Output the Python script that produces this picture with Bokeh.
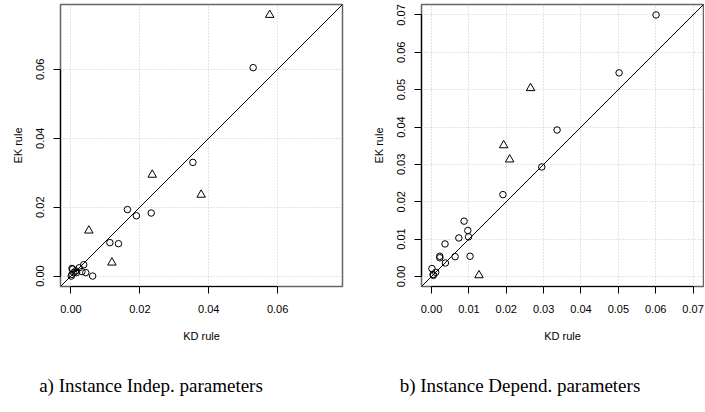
from bokeh.plotting import figure
from bokeh.models import Range1d, FixedTicker, NumeralTickFormatter, Slope, Div
from bokeh.layouts import column, row
from bokeh.embed import file_html
from bokeh.resources import INLINE

# ---- data: panel a) instance independent parameters ----
a_circ_kd = [0.0529, 0.0354, 0.0164, 0.0190, 0.0233, 0.0113, 0.0138, 0.0005, 0.0008,
             0.0003, 0.0014, 0.0024, 0.0037, 0.0043, 0.0032, 0.0063, 0.0016, 0.0001, 0.0003]
a_circ_ek = [0.0605, 0.0330, 0.0193, 0.0175, 0.0183, 0.0097, 0.0094, 0.0020, 0.0010,
             0.0005, 0.0015, 0.0024, 0.0033, 0.0010, 0.0013, 0.0000, 0.0010, 0.0000, 0.0022]
a_tri_kd = [0.0236, 0.0378, 0.0052, 0.0119, 0.0577]
a_tri_ek = [0.0294, 0.0236, 0.0132, 0.0039, 0.0758]
a_ticks = [0.00, 0.02, 0.04, 0.06]

# ---- data: panel b) instance dependent parameters ----
b_circ_kd = [0.0601, 0.0502, 0.0336, 0.0295, 0.0191, 0.0087, 0.0097, 0.0099, 0.0073, 0.0036,
             0.0022, 0.0022, 0.0063, 0.0103, 0.0037, 0.0001, 0.0011, 0.0004, 0.0005]
b_circ_ek = [0.0700, 0.0545, 0.0392, 0.0293, 0.0219, 0.0148, 0.0123, 0.0106, 0.0103, 0.0087,
             0.0054, 0.0050, 0.0053, 0.0054, 0.0036, 0.0021, 0.0011, 0.0005, 0.0003]
b_tri_kd = [0.0265, 0.0193, 0.0209, 0.0127]
b_tri_ek = [0.0504, 0.0351, 0.0313, 0.0003]
b_ticks = [0.00, 0.01, 0.02, 0.03, 0.04, 0.05, 0.06, 0.07]

x_label = "KD rule"
y_label = "EK rule"
caption_a = "a) Instance Indep. parameters"
caption_b = "b) Instance Depend. parameters"

SANS = "Liberation Sans"


def make_panel(ckd, cek, tkd, tek, ticks, border_left, border_right):
    allv = ckd + cek + tkd + tek
    lo, hi = min(allv), max(allv)
    pad = 0.04 * (hi - lo)
    p = figure(frame_width=282, frame_height=282, output_backend="svg",
               toolbar_location=None,
               x_range=Range1d(lo - pad, hi + pad), y_range=Range1d(lo - pad, hi + pad),
               min_border_left=border_left, min_border_right=border_right,
               min_border_top=4, min_border_bottom=60)
    p.background_fill_color = "white"
    p.border_fill_color = "white"
    p.outline_line_color = "#666666"
    p.outline_line_width = 1.5

    for ax in (p.xaxis[0], p.yaxis[0]):
        ax.ticker = FixedTicker(ticks=ticks)
        ax.formatter = NumeralTickFormatter(format="0.00")
        ax.bounds = (ticks[0], ticks[-1])
        ax.major_tick_in = 0
        ax.major_tick_out = 7
        ax.minor_tick_in = 0
        ax.minor_tick_out = 0
        ax.axis_line_color = "black"
        ax.axis_line_width = 1.2
        ax.major_tick_line_color = "black"
        ax.major_label_text_font = SANS
        ax.major_label_text_font_size = "11px"
        ax.major_label_text_color = "black"
        ax.axis_label_text_font = SANS
        ax.axis_label_text_font_size = "11px"
        ax.axis_label_text_font_style = "normal"
        ax.axis_label_text_color = "black"
    p.xaxis.axis_label = x_label
    p.yaxis.axis_label = y_label
    p.xaxis.major_label_standoff = 11
    p.xaxis.axis_label_standoff = 14
    p.yaxis.major_label_standoff = 9
    p.yaxis.major_label_orientation = "vertical"
    p.yaxis.axis_label_standoff = 10

    for g in (p.xgrid[0], p.ygrid[0]):
        g.grid_line_color = "#c8c8c8"
        g.grid_line_dash = "1 2"
        g.grid_line_width = 1

    p.add_layout(Slope(gradient=1, y_intercept=0, line_color="black", line_width=1))
    p.scatter(ckd, cek, marker="circle", size=6.5, fill_color=None,
              line_color="black", line_width=1)
    p.scatter(tkd, tek, marker="triangle", size=8.5, fill_color=None,
              line_color="black", line_width=1)
    return p


pa = make_panel(a_circ_kd, a_circ_ek, a_tri_kd, a_tri_ek, a_ticks, 60, 9)
pb = make_panel(b_circ_kd, b_circ_ek, b_tri_kd, b_tri_ek, b_ticks, 70, 1)

cap_style = ("font-family:'Liberation Serif';font-size:19px;color:black;"
             "text-align:center;padding-top:21px;white-space:nowrap;")
da = Div(text=f'<div style="{cap_style}width:292px">{caption_a}</div>', width=351)
db = Div(text=f'<div style="{cap_style}width:308px">{caption_b}</div>', width=353)

layout = column(row(pa, pb), row(da, db))
open("out.html", "w").write(file_html(layout, INLINE))
